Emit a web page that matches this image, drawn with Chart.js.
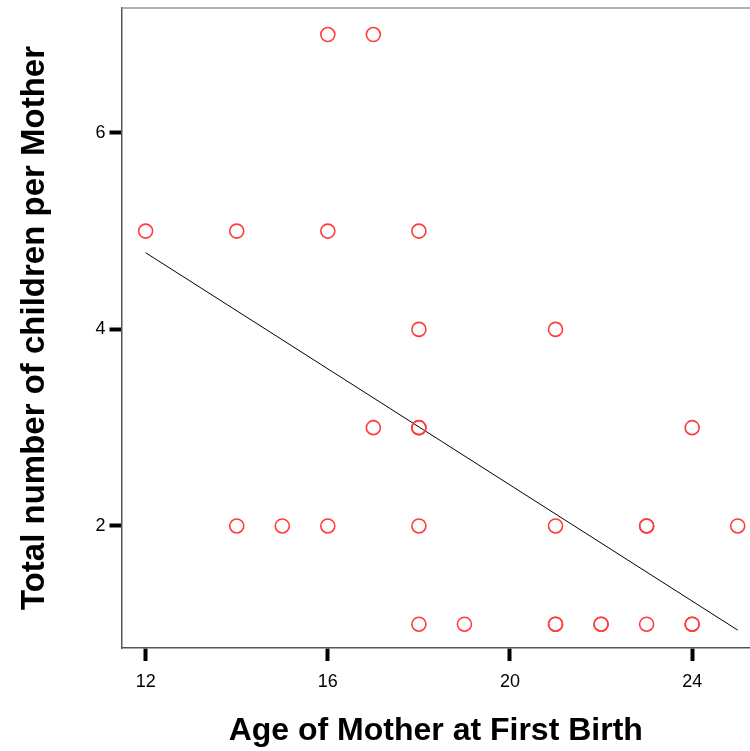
<!DOCTYPE html>
<html>
<head>
<meta charset="utf-8">
<script src="https://cdn.jsdelivr.net/npm/chart.js@4.4.1/dist/chart.umd.min.js"></script>
<style>
  html, body { margin: 0; padding: 0; background: #fff; overflow: hidden; }
  #wrap { width: 750px; height: 751px; position: relative; }
  canvas { display: block; }
</style>
</head>
<body>
<div id="wrap"><canvas id="chart"></canvas></div>
<script>
// Age of mother at first birth vs total children
const ages     = [16, 17, 12, 14, 16, 18, 18, 21, 17, 18, 18, 24, 14, 15, 16, 18, 21, 23, 23, 25, 18, 19, 21, 21, 22, 22, 23, 24, 24];
const children = [ 7,  7,  5,  5,  5,  5,  4,  4,  3,  3,  3,  3,  2,  2,  2,  2,  2,  2,  2,  2,  1,  1,  1,  1,  1,  1,  1,  1,  1];

// fitted line end points
const fitX = [12, 25];
const fitY = [4.78, 0.94];

const xTicks = [12, 16, 20, 24];
const yTicks = [2, 4, 6];

const points = ages.map((a, i) => ({ x: a, y: children[i] }));
const fitLine = fitX.map((x, i) => ({ x: x, y: fitY[i] }));

// top frame line (Chart.js draws only the axis borders)
const topFrame = {
    id: 'topFrame',
    afterDraw(chart) {
        const { ctx, chartArea } = chart;
        ctx.save();
        ctx.strokeStyle = '#999';
        ctx.lineWidth = 1.5;
        ctx.beginPath();
        ctx.moveTo(chartArea.left, chartArea.top);
        ctx.lineTo(chartArea.right, chartArea.top);
        ctx.stroke();
        ctx.restore();
    }
};

new Chart(document.getElementById('chart'), {
    type: 'scatter',
    data: {
        datasets: [{
            label: 'Fit',
            type: 'line',
            data: fitLine,
            borderColor: '#000',
            borderWidth: 1,
            pointRadius: 0,
            fill: false,
            order: 2
        }, {
            label: 'Children',
            data: points,
            pointStyle: 'circle',
            pointRadius: 7,
            pointBorderWidth: 1.6,
            pointBorderColor: '#ff3b3b',
            pointBackgroundColor: 'rgba(0,0,0,0)',
            order: 1
        }]
    },
    options: {
        responsive: true,
        maintainAspectRatio: false,
        animation: false,
        layout: { autoPadding: false, padding: { top: 8, left: 0, right: 0, bottom: 0 } },
        plugins: {
            legend: { display: false },
            tooltip: { enabled: false }
        },
        scales: {
            x: {
                type: 'linear',
                min: 11.47,
                max: 25.27,
                afterBuildTicks: (scale) => { scale.ticks = xTicks.map(v => ({ value: v })); },
                afterFit: (scale) => {
                    scale.height = 103;
                    scale.paddingLeft = 0;
                    scale.paddingRight = 0;
                },
                border: { display: true, color: '#555', width: 1.5 },
                grid: { drawOnChartArea: false, drawTicks: true, tickLength: 13, tickWidth: 4, tickColor: '#000' },
                ticks: {
                    color: '#000',
                    padding: 10,
                    font: { family: 'Liberation Sans, Arial', size: 18 }
                },
                title: {
                    display: true,
                    text: 'Age of Mother at First Birth',
                    color: '#000',
                    padding: { top: 0, bottom: 1 },
                    font: { family: 'Liberation Sans, Arial', size: 32, weight: 'bold' }
                }
            },
            y: {
                type: 'linear',
                min: 0.758,
                max: 7.27,
                afterBuildTicks: (scale) => { scale.ticks = yTicks.map(v => ({ value: v })); },
                afterFit: (scale) => {
                    scale.width = 121.5;
                    scale.paddingTop = 0;
                    scale.paddingBottom = 0;
                },
                border: { display: true, color: '#555', width: 1.5 },
                grid: { drawOnChartArea: false, drawTicks: true, tickLength: 12, tickWidth: 4, tickColor: '#000' },
                ticks: {
                    color: '#000',
                    padding: 4,
                    font: { family: 'Liberation Sans, Arial', size: 18 }
                },
                title: {
                    display: true,
                    text: 'Total number of children per Mother',
                    color: '#000',
                    padding: { top: 15, bottom: 0 },
                    font: { family: 'Liberation Sans, Arial', size: 33, weight: 'bold' }
                }
            }
        }
    },
    plugins: [topFrame]
});
</script>
</body>
</html>
